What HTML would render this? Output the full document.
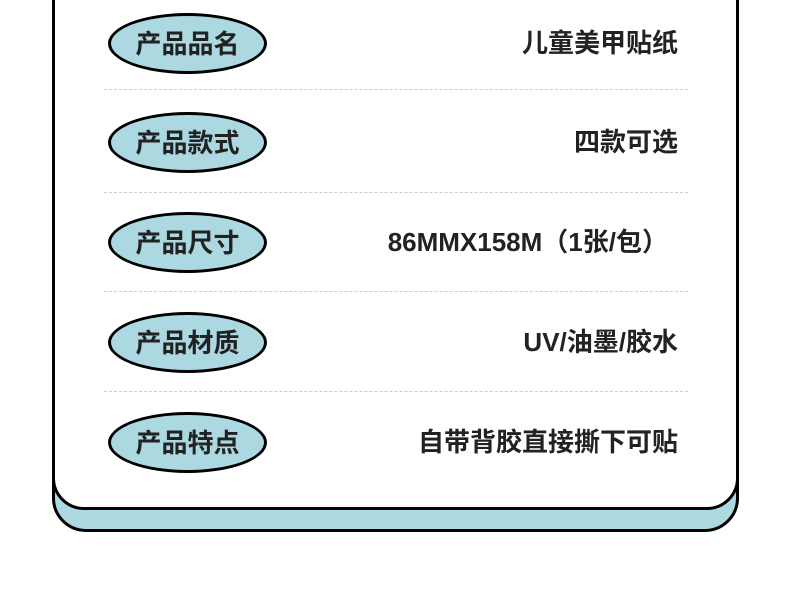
<!DOCTYPE html>
<html><head><meta charset="utf-8"><style>
body{margin:0;width:790px;height:591px;background:#fff;position:relative;overflow:hidden;font-family:"Liberation Sans","Noto Sans CJK SC",sans-serif;}
.blue{position:absolute;left:52px;top:-40px;width:687px;height:572px;box-sizing:border-box;border:3px solid #000;border-radius:0 0 34px 34px;background:#acd8e2;}
.card{position:absolute;left:52px;top:-40px;width:687px;height:550px;box-sizing:border-box;border:3px solid #000;border-radius:0 0 32px 32px;background:#fff;}
.pill{position:absolute;left:108px;width:159px;height:61px;box-sizing:border-box;border:3px solid #000;border-radius:50%;background:#acd8e2;text-align:center;line-height:56px;font-size:26px;font-weight:bold;color:#222;}
.val{position:absolute;right:112px;font-size:26px;font-weight:bold;color:#222;height:40px;line-height:41px;white-space:nowrap;}
.dash{position:absolute;left:104px;width:584px;border-top:1px dashed #ccc;}
</style></head><body>
<div class="blue"></div><div class="card"></div>
<div class="pill" style="top:13px">产品品名</div><div class="val" style="top:23px">儿童美甲贴纸</div>
<div class="dash" style="top:89px"></div>
<div class="pill" style="top:112px">产品款式</div><div class="val" style="top:122px">四款可选</div>
<div class="dash" style="top:192px"></div>
<div class="pill" style="top:212px">产品尺寸</div><div class="val" style="top:222px;right:122px">86MMX158M（1张/包）</div>
<div class="dash" style="top:291px"></div>
<div class="pill" style="top:312px">产品材质</div><div class="val" style="top:322px">UV/油墨/胶水</div>
<div class="dash" style="top:391px"></div>
<div class="pill" style="top:412px">产品特点</div><div class="val" style="top:422px">自带背胶直接撕下可贴</div>
</body></html>
